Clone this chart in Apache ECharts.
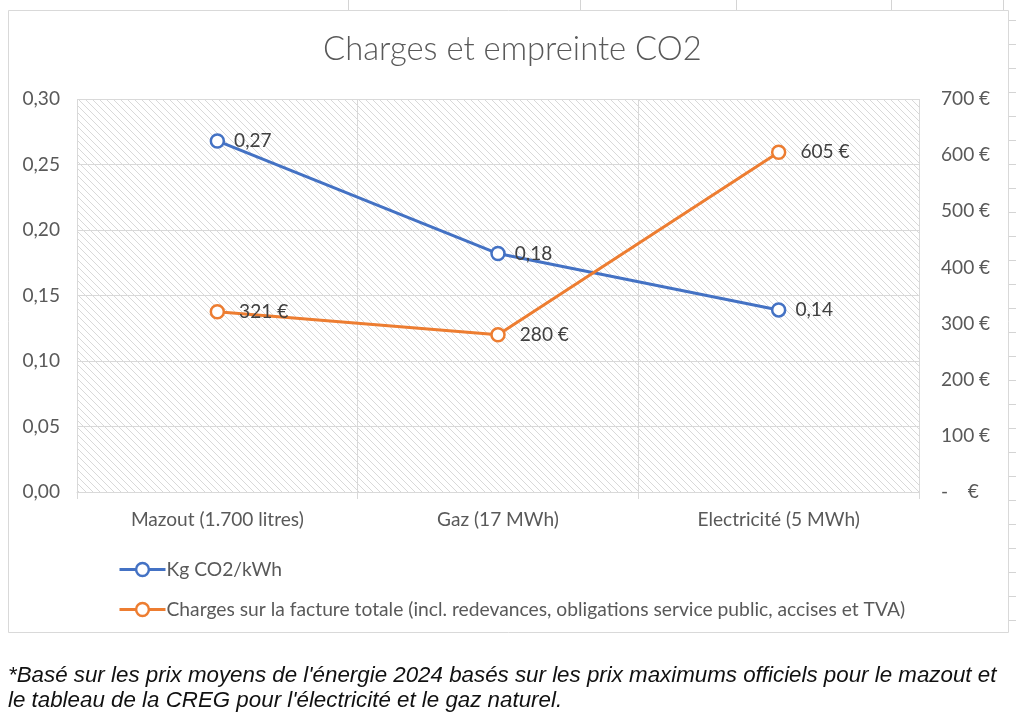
<!DOCTYPE html>
<html><head><meta charset="utf-8">
<script src="https://cdn.jsdelivr.net/npm/echarts@6/dist/echarts.min.js"></script>
<style>html,body{margin:0;padding:0;background:#fff}#c{width:1024px;height:721px}</style>
</head><body><div id="c"></div>
<script>
const titleText = 'Charges et empreinte CO2';
const categories = ['Mazout (1.700 litres)', 'Gaz (17 MWh)', 'Electricité (5 MWh)'];
const co2Name = 'Kg CO2/kWh';
const co2Values = [0.268, 0.182, 0.139];
const chargeName = 'Charges sur la facture totale (incl. redevances, obligations service public, accises et TVA)';
const chargeValues = [321, 280, 605];
const leftAxis = { min: 0, max: 0.30, interval: 0.05 };
const rightAxis = { min: 0, max: 700, interval: 100 };
const footnote = [
  "*Basé sur les prix moyens de l'énergie 2024 basés sur les prix maximums officiels pour le mazout et",
  "le tableau de la CREG pour l'électricité et le gaz naturel."
];

const FONT = 'Lato, "Open Sans", sans-serif';
const FOOT_FONT = '"Liberation Sans", Arial, sans-serif';
function fit(text, target, font, style) {
  const g = document.createElement('canvas').getContext('2d');
  g.font = (style || '') + ' 100px ' + font;
  return 100 * target / g.measureText(text).width;
}
const axisFs = fit(categories[0], 173, FONT);
const legendFs = fit(chargeName, 739, FONT);
const titleFs = fit(titleText, 379, FONT, '300');
const footFs = fit(footnote[0], 989, FOOT_FONT, 'italic');

function hatch() {
  const s = 7;
  const c = document.createElement('canvas'); c.width = s; c.height = s;
  const g = c.getContext('2d');
  g.fillStyle = '#ffffff'; g.fillRect(0, 0, s, s);
  g.strokeStyle = '#d9d9d9'; g.lineWidth = 1;
  g.beginPath();
  g.moveTo(-1, -1); g.lineTo(s + 1, s + 1);
  g.moveTo(-1, s - 1); g.lineTo(1, s + 1);
  g.moveTo(s - 1, -1); g.lineTo(s + 1, 1);
  g.stroke();
  return c;
}
const fmtDec = v => v.toFixed(2).replace('.', ',');
const fmtEur = v => v === 0 ? '-    €' : v + ' €';

const gridLine = '#d9d9d9';
const textGrey = '#595959';

const deco = [];
deco.push({ type: 'rect', shape: { x: 8.5, y: 10.5, width: 1000, height: 622 }, style: { fill: 'none', stroke: '#d9d9d9', lineWidth: 1 }, z: -1 });
[348, 580, 736, 891, 1003].forEach(x => deco.push({ type: 'line', shape: { x1: x + .5, y1: 0, x2: x + .5, y2: 10 }, style: { stroke: '#d4d4d4', lineWidth: 1 } }));
for (let y = 20; y < 640; y += 24) deco.push({ type: 'line', shape: { x1: 1009, y1: y + .5, x2: 1016, y2: y + .5 }, style: { stroke: '#d4d4d4', lineWidth: 1 } });
footnote.forEach((t, i) => deco.push({ type: 'text', left: 8, top: 675 + i * 25 - footFs / 2 + 1, style: { text: t, fill: '#111111', font: 'italic ' + footFs.toFixed(2) + 'px ' + FOOT_FONT } }));

const chart = echarts.init(document.getElementById('c'));
chart.setOption({
  backgroundColor: '#ffffff',
  animation: false,
  title: { text: titleText, left: 318, top: 28, textStyle: { fontFamily: FONT, fontWeight: 300, fontSize: titleFs, color: textGrey } },
  grid: { left: 77, right: 105, top: 99, bottom: 229, show: true, borderWidth: 0, backgroundColor: { image: hatch(), repeat: 'repeat' } },
  legend: {
    orient: 'vertical', left: 113, top: 555, itemWidth: 46, itemHeight: 16, itemGap: 21,
    lineStyle: { width: 3 },
    itemStyle: { borderWidth: 2.5 },
    textStyle: { fontFamily: FONT, fontSize: legendFs, color: textGrey, padding: [0, 0, 0, -4] },
    data: [co2Name, chargeName]
  },
  xAxis: {
    type: 'category', data: categories, boundaryGap: true,
    axisLine: { lineStyle: { color: gridLine, width: 1 } },
    axisTick: { show: true, length: 7, lineStyle: { color: gridLine } },
    splitLine: { show: true, lineStyle: { color: gridLine, width: 1 } },
    axisLabel: { fontFamily: FONT, fontSize: axisFs, color: textGrey, margin: 18 }
  },
  yAxis: [
    { type: 'value', min: leftAxis.min, max: leftAxis.max, interval: leftAxis.interval, position: 'left',
      axisLine: { show: false }, axisTick: { show: false },
      splitLine: { show: true, lineStyle: { color: gridLine, width: 1 } },
      axisLabel: { fontFamily: FONT, fontSize: axisFs, color: textGrey, margin: 17, formatter: fmtDec } },
    { type: 'value', min: rightAxis.min, max: rightAxis.max, interval: rightAxis.interval, position: 'right',
      axisLine: { show: false }, axisTick: { show: false }, splitLine: { show: false },
      axisLabel: { fontFamily: FONT, fontSize: axisFs, color: textGrey, margin: 22, align: 'left', formatter: fmtEur } }
  ],
  series: [
    { name: co2Name, type: 'line', yAxisIndex: 0, data: co2Values,
      symbol: 'circle', symbolSize: 13, showAllSymbol: true,
      lineStyle: { color: '#4472C4', width: 3 },
      itemStyle: { color: '#ffffff', borderColor: '#4472C4', borderWidth: 2.5 },
      label: { show: true, position: 'right', distance: 9, formatter: p => fmtDec(p.value), fontFamily: FONT, fontSize: axisFs, color: '#404040' },
      z: 3 },
    { name: chargeName, type: 'line', yAxisIndex: 1, data: chargeValues,
      symbol: 'circle', symbolSize: 13, showAllSymbol: true,
      lineStyle: { color: '#ED7D31', width: 3 },
      itemStyle: { color: '#ffffff', borderColor: '#ED7D31', borderWidth: 2.5 },
      label: { show: true, position: 'right', distance: 14, formatter: p => fmtEur(p.value), fontFamily: FONT, fontSize: axisFs, color: '#404040' },
      z: 3 }
  ],
  graphic: deco
});
</script></body></html>
